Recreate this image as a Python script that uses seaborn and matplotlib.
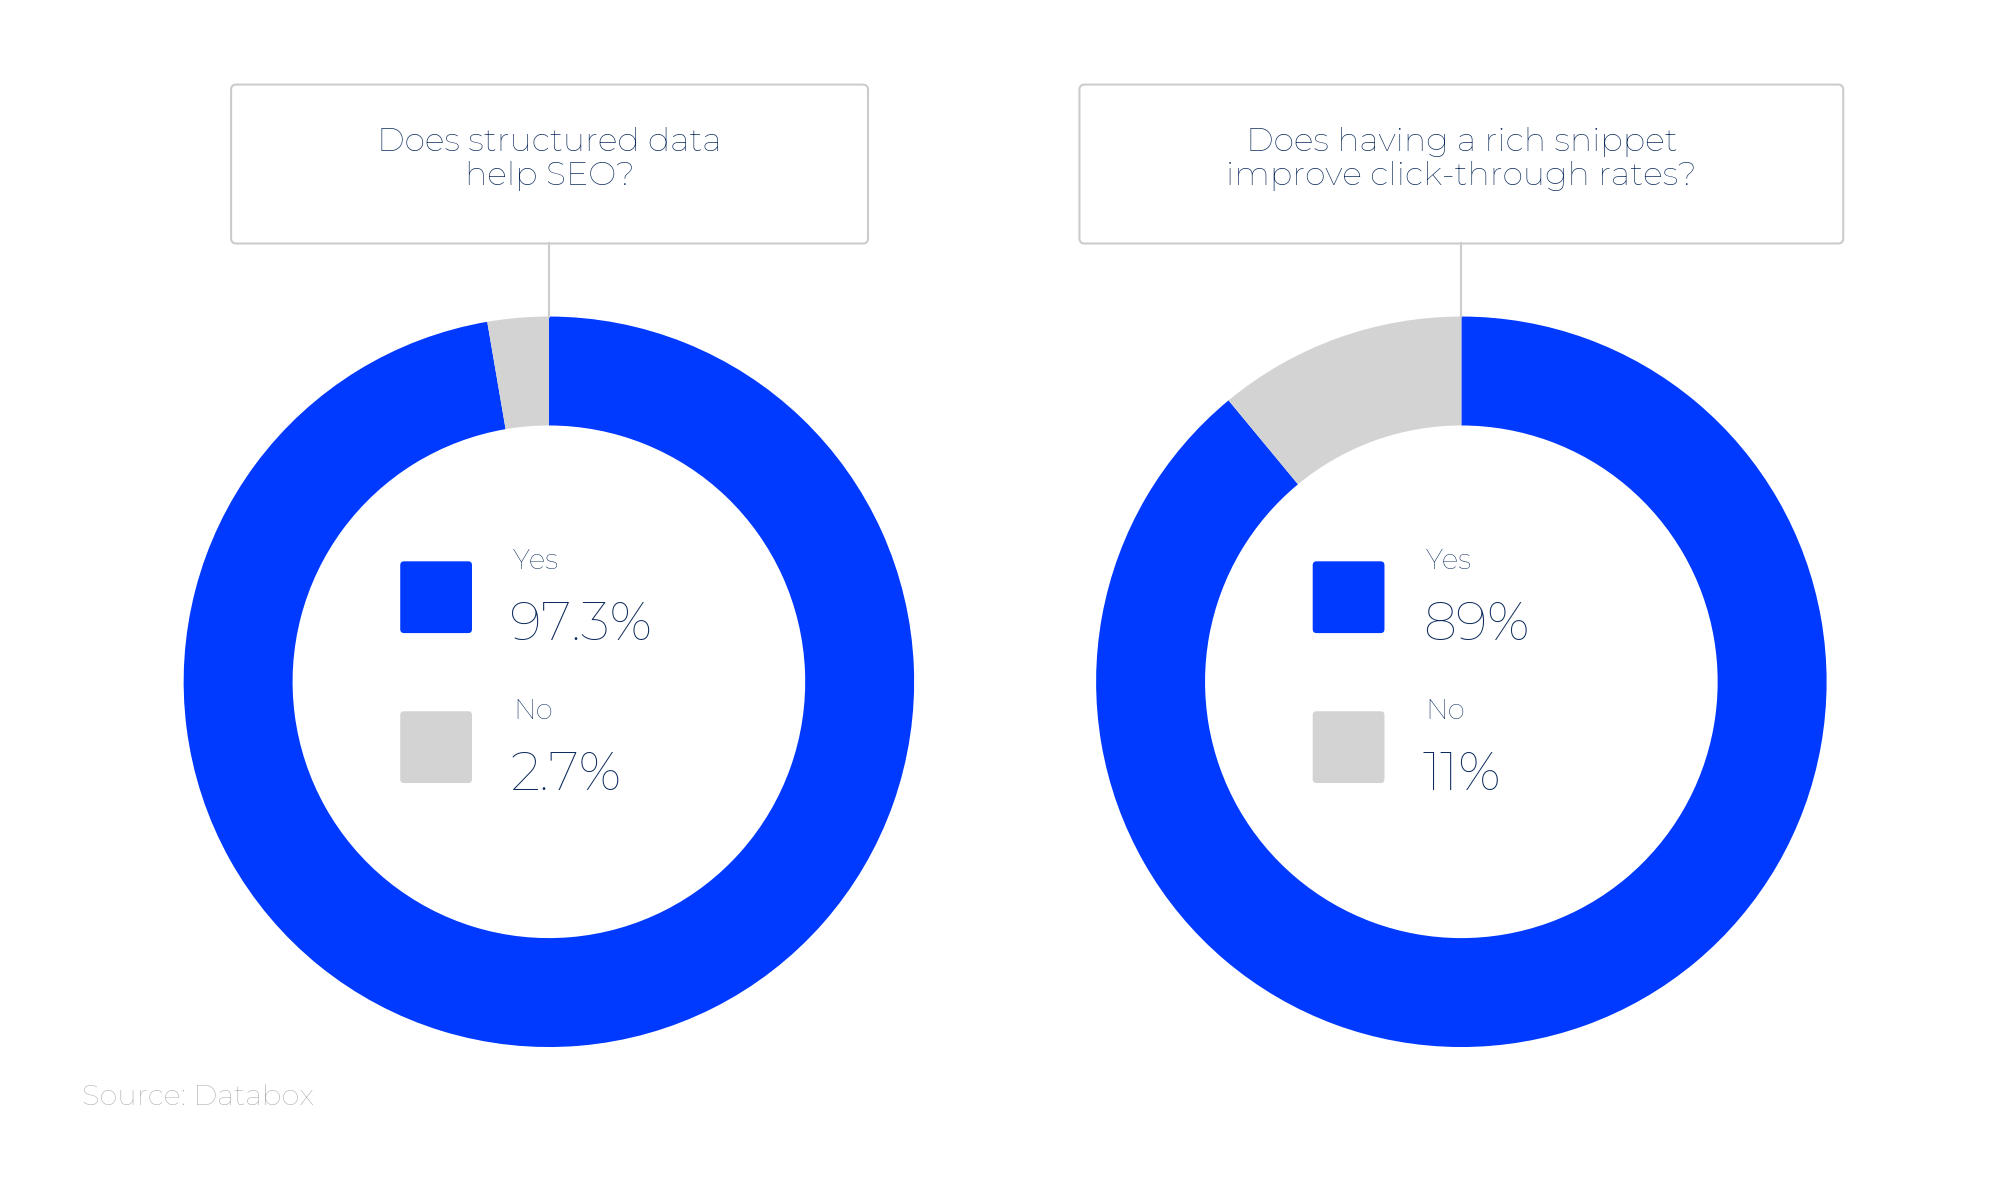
import matplotlib
matplotlib.use("Agg")
import matplotlib.pyplot as plt
from matplotlib.patches import FancyBboxPatch
import seaborn as sns

# data
questions = ["Does structured data\nhelp SEO?",
             "Does having a rich snippet\nimprove click-through rates?"]
answers = ["Yes", "No"]
yes_vals = [97.3, 89]
no_vals = [2.7, 11]
pct_labels = [["97.3%", "2.7%"], ["89%", "11%"]]

BLUE = "#0039FF"
GREY = "#D3D3D3"
NAVY = "#0D2B5C"

sns.set_theme(style="white")
plt.rcParams["font.family"] = ["Montserrat", "Open Sans", "DejaVu Sans"]

fig = plt.figure(figsize=(20, 11.88), dpi=100)
ax = fig.add_axes([0, 0, 1, 1])
W, H = 1560, 927


def Y(y):
    # layout measured from the top
    return H - y


centers = [428, 1140]
cy = 532
R, r = 285, 200
boxes = [(180, 677), (842, 1438)]

for i, cx in enumerate(centers):
    ax.pie([yes_vals[i], no_vals[i]], colors=[BLUE, GREY], startangle=90,
           counterclock=False, center=(cx, Y(cy)), radius=R,
           wedgeprops=dict(width=R - r, linewidth=0))
    # title box
    x0, x1 = boxes[i]
    ax.add_patch(FancyBboxPatch((x0, Y(190)), x1 - x0, 124,
                                boxstyle="round,pad=0,rounding_size=4",
                                fc="white", ec="#CCCCCC", lw=1.5))
    ax.plot([cx, cx], [Y(190), Y(cy - R)], color="#CCCCCC", lw=1.5)
    ax.text((x0 + x1) / 2, Y(124), questions[i], ha="center", va="center",
            fontsize=24, fontweight="bold", color=NAVY, linespacing=1.15)
    # legend inside donut
    lx = cx - 116
    for j, (col, ytop) in enumerate([(BLUE, 438), (GREY, 555)]):
        ax.add_patch(FancyBboxPatch((lx, Y(ytop + 56)), 56, 56,
                                    boxstyle="round,pad=0,rounding_size=3",
                                    fc=col, ec="none"))
        ax.text(lx + 88, Y(ytop), answers[j], ha="left", va="center",
                fontsize=20, color=NAVY)
        ax.text(lx + 86, Y(ytop + 50), pct_labels[i][j], ha="left", va="center",
                fontsize=38, fontweight="black", color=NAVY)

ax.text(64, Y(856), "Source: Databox", ha="left", va="center",
        fontsize=21, color="#AAAAAA")

ax.set_xlim(0, W)
ax.set_ylim(0, H)
ax.set_aspect("equal")
ax.axis("off")

fig.savefig("out.png", dpi=100, facecolor="white")
